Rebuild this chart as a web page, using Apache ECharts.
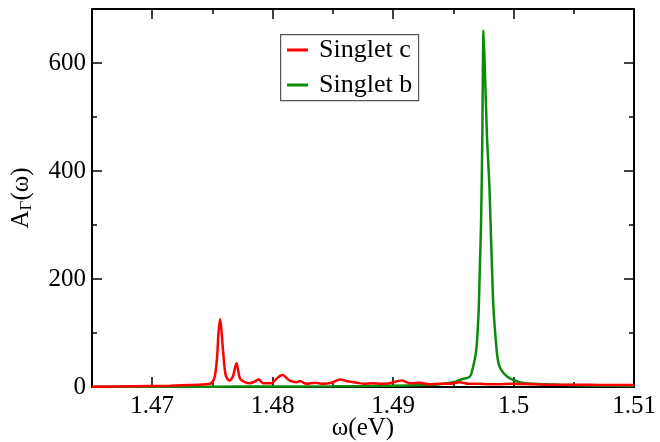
<!DOCTYPE html>
<html>
<head>
<meta charset="utf-8">
<script src="https://cdn.jsdelivr.net/npm/echarts@6/dist/echarts.min.js"></script>
<style>html,body{margin:0;padding:0;background:#fff}#c{width:660px;height:442px}</style>
</head>
<body>
<div id="c"></div>
<script>
// ---- data ----
var xMajorTicks = [1.47, 1.48, 1.49, 1.5, 1.51];
var xMinorTicks = [1.475, 1.485, 1.495, 1.505];
var yMajorTicks = [0, 200, 400, 600];
var yMinorTicks = [100, 300, 500];

var singletC_x = [1.465, 1.4684, 1.4715, 1.4731, 1.4744, 1.4749, 1.4752, 1.4754, 1.4755, 1.47564, 1.4758, 1.4759, 1.4761, 1.4764, 1.4767, 1.4769, 1.4770, 1.4771, 1.4773, 1.4777, 1.4781, 1.4785, 1.47885, 1.4792, 1.4799, 1.4803, 1.4808, 1.4814, 1.4820, 1.48225, 1.4828, 1.4835, 1.4842, 1.4849, 1.4856, 1.4863, 1.4870, 1.4876, 1.4883, 1.4890, 1.4897, 1.4907, 1.4914, 1.4922, 1.4930, 1.4939, 1.4947, 1.4955, 1.4963, 1.4972, 1.498, 1.4988, 1.4997, 1.5016, 1.5038, 1.5063, 1.508, 1.51];
var singletC_y = [0.5, 1.5, 2.5, 3.5, 5, 7, 20, 60, 100, 126, 90, 62, 22, 12, 20, 38, 44, 35, 15, 9, 7, 10, 14, 7, 7, 15, 22, 12, 9, 11, 6, 8, 6, 8, 14, 10, 8, 6, 7, 6, 7, 12, 7, 8, 5, 6, 6, 9, 6, 6, 5, 5, 6, 5, 4, 4, 3.5, 3.5];

var singletB_x = [1.465, 1.475, 1.48, 1.485, 1.488, 1.49, 1.4925, 1.4939, 1.4952, 1.4958, 1.4963, 1.4965, 1.4969, 1.4971, 1.4972, 1.4973, 1.4974, 1.4975, 1.4976, 1.4978, 1.4980, 1.4983, 1.4986, 1.4988, 1.4992, 1.4997, 1.5005, 1.5016, 1.5038, 1.507, 1.51];
var singletB_y = [0.3, 0.6, 0.9, 1.3, 1.8, 2.5, 3.5, 5, 10, 15, 18, 25, 68, 140, 220, 300, 450, 660, 600, 460, 370, 160, 68, 40, 25, 16, 9, 6, 4, 2.5, 2];

function pairs(xs, ys) { return xs.map(function (x, i) { return [x, ys[i]]; }); }

var FONT = 'Liberation Serif';
var gridRect = { left: 92, right: 26, top: 9, bottom: 55, containLabel: false, outerBoundsMode: 'none' };

function xAx(grid, pos, ticks, len, line, labels) {
  return {
    type: 'value', gridIndex: grid, position: pos, min: 1.465, max: 1.51,
    splitLine: { show: false },
    axisLine: { show: line, onZero: false, lineStyle: { color: '#000', width: 2 } },
    axisTick: { show: true, inside: true, length: len, customValues: ticks, lineStyle: { color: '#000', width: 1.5 } },
    axisLabel: labels ? { show: true, customValues: ticks, fontFamily: FONT, fontSize: 25, color: '#000', margin: 7,
      formatter: function (v) { return String(+v.toFixed(3)); } } : { show: false }
  };
}
function yAx(grid, pos, ticks, len, line, labels) {
  return {
    type: 'value', gridIndex: grid, position: pos, min: 0, max: 700,
    splitLine: { show: false },
    axisLine: { show: line, onZero: false, lineStyle: { color: '#000', width: 2 } },
    axisTick: { show: true, inside: true, length: len, customValues: ticks, lineStyle: { color: '#000', width: 1.5 } },
    axisLabel: labels ? { show: true, customValues: ticks, fontFamily: FONT, fontSize: 25, color: '#000', margin: 6 } : { show: false }
  };
}

var xMain = xAx(0, 'bottom', xMajorTicks, 10, true, true);
xMain.name = 'ω(eV)';
xMain.nameLocation = 'middle';
xMain.nameGap = 29;
xMain.nameMoveOverlap = false;
xMain.nameTextStyle = { fontFamily: FONT, fontSize: 25, color: '#000' };

var yMain = yAx(0, 'left', yMajorTicks, 10, true, true);
yMain.name = '{a|A}{s|Γ}{a|(ω)}';
yMain.nameLocation = 'middle';
yMain.nameGap = 56;
yMain.nameMoveOverlap = false;
yMain.nameTextStyle = {
  fontFamily: FONT, color: '#000',
  rich: {
    a: { fontFamily: FONT, fontSize: 25, color: '#000', lineHeight: 30 },
    s: { fontFamily: FONT, fontSize: 17, color: '#000', lineHeight: 30, padding: [12, 0, 0, 0] }
  }
};

var option = {
  animation: false,
  backgroundColor: '#fff',
  grid: [
    Object.assign({}, gridRect),
    Object.assign({}, gridRect)
  ],
  graphic: [{
    type: 'rect', left: 280, top: 34, z: 100, silent: true,
    shape: { width: 138, height: 66 },
    style: { fill: 'rgba(255,255,255,0)', stroke: '#555', lineWidth: 1.2 }
  }],
  xAxis: [
    xMain,
    xAx(0, 'top', xMajorTicks, 10, true, false),
    xAx(1, 'bottom', xMinorTicks, 5, false, false),
    xAx(1, 'top', xMinorTicks, 5, false, false)
  ],
  yAxis: [
    yMain,
    yAx(0, 'right', yMajorTicks, 10, true, false),
    yAx(1, 'left', yMinorTicks, 5, false, false),
    yAx(1, 'right', yMinorTicks, 5, false, false)
  ],
  legend: {
    orient: 'vertical', left: 280, top: 36,
    data: [{ name: 'Singlet c', icon: 'rect' }, { name: 'Singlet b', icon: 'rect' }],
    itemWidth: 21, itemHeight: 3, itemGap: 9,
    padding: [1, 8, 0, 7],
    textStyle: { fontFamily: FONT, fontSize: 26, color: '#000', padding: [0, 0, 0, 6] }
  },
  series: [
    {
      name: 'Singlet b', type: 'line', xAxisIndex: 0, yAxisIndex: 0,
      data: pairs(singletB_x, singletB_y),
      showSymbol: false, symbol: 'none', smooth: 0.2, z: 2,
      lineStyle: { color: '#0a8c0a', width: 2.5 }, itemStyle: { color: '#0a8c0a' }
    },
    {
      name: 'Singlet c', type: 'line', xAxisIndex: 0, yAxisIndex: 0,
      data: pairs(singletC_x, singletC_y),
      showSymbol: false, symbol: 'none', smooth: 0.3, z: 3,
      lineStyle: { color: '#ff0000', width: 2.5 }, itemStyle: { color: '#ff0000' }
    }
  ]
};
var chart = echarts.init(document.getElementById('c'), null, { renderer: 'canvas' });
chart.setOption(option);
</script>
</body>
</html>
